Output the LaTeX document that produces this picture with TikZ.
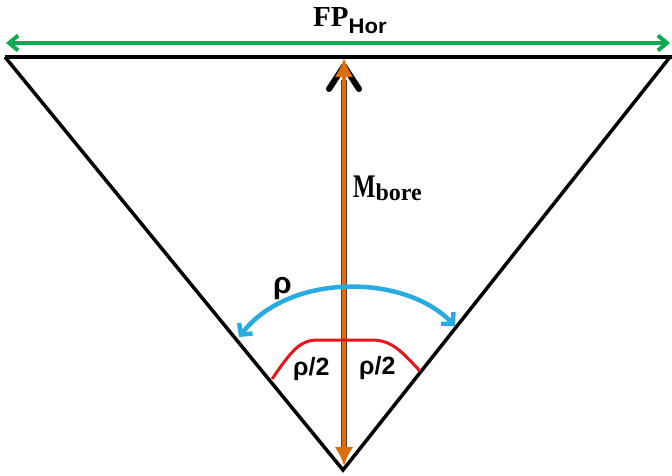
\documentclass[tikz,border=0pt]{standalone}
\usepackage{fontspec}
\setmainfont{Liberation Serif}
\newfontfamily\sansb{Liberation Sans}
\usetikzlibrary{arrows.meta}
\definecolor{cgreen}{RGB}{16,168,80}
\definecolor{corange}{RGB}{220,110,16}
\definecolor{cdark}{RGB}{90,60,40}
\definecolor{cblue}{RGB}{40,170,226}
\definecolor{cred}{RGB}{232,20,28}
\tikzset{
  edge/.style={line width=3.5pt, black, line join=miter},
  lbl/.style={inner sep=0pt, text=black, anchor=base west},
}
\begin{document}
\begin{tikzpicture}[x=1pt,y=-1pt]
\useasboundingbox (0,0) rectangle (672,476);
\coordinate (tl) at (5,57);
\coordinate (tr) at (672,57);
\coordinate (tr2) at (670,57);
\coordinate (bot) at (343,470);
\coordinate (otop) at (344,58);
\coordinate (obot) at (344,466);
% triangle
\draw[edge] (tl) -- (tr);
\draw[edge] (tl) -- (bot) -- (tr2);
% green arrow
\coordinate (gl) at (6,43);
\coordinate (gr) at (670,43);
\draw[cgreen, line width=4pt, {Straight Barb[length=9pt,width=15pt,line width=4pt]}-{Straight Barb[length=9pt,width=15pt,line width=4pt]}] (gl) -- (gr);
\node[lbl] (fp) at (313,27) {\fontsize{29}{29}\selectfont\bfseries FP\raisebox{-7pt}{\sansb\fontsize{21}{21}\selectfont\bfseries\scalebox{1.05}[1]{Hor}}};
% black chevron
\coordinate (ch1) at (329,89);
\coordinate (chA) at (344,66);
\coordinate (ch2) at (359,89);
\draw[line width=6pt, line cap=round, line join=round] (ch1) -- (chA) -- (ch2);
% orange arrow
\draw[cdark, line width=6pt] (344,80) -- (344,448);
\draw[corange, line width=4pt, {Latex[length=19pt,width=19pt]}-{Latex[length=19pt,width=19pt]}] (otop) -- (obot);
\node[lbl] (mb) at (353,197) {\fontsize{33}{33}\selectfont\bfseries\scalebox{0.72}[1]{M}\raisebox{-3pt}{\fontsize{24}{24}\selectfont bore}};
% blue arc
\coordinate (bl) at (239,337);
\coordinate (br) at (455,326);
\draw[cblue, line width=4.5pt, {Straight Barb[length=8pt,width=17pt,line width=4.5pt]}-{Straight Barb[length=8pt,width=17pt,line width=4.5pt]}] (bl) .. controls (290,272) and (405,274) .. (br);
\node[lbl] (rho) at (273,293) {\sansb\fontsize{30}{30}\selectfont\bfseries ρ};
% red curve
\coordinate (rl) at (272,379);
\coordinate (rr) at (420,371);
\draw[cred, line width=3pt] (rl) .. controls (292,350) and (300,340) .. (318,340) -- (372,340) .. controls (392,340) and (402,352) .. (rr);
\node[lbl] (h1) at (293,375) {\sansb\fontsize{25}{25}\selectfont\bfseries ρ/2};
\node[lbl] (h2) at (359,374) {\sansb\fontsize{25}{25}\selectfont\bfseries ρ/2};
\end{tikzpicture}
\end{document}
